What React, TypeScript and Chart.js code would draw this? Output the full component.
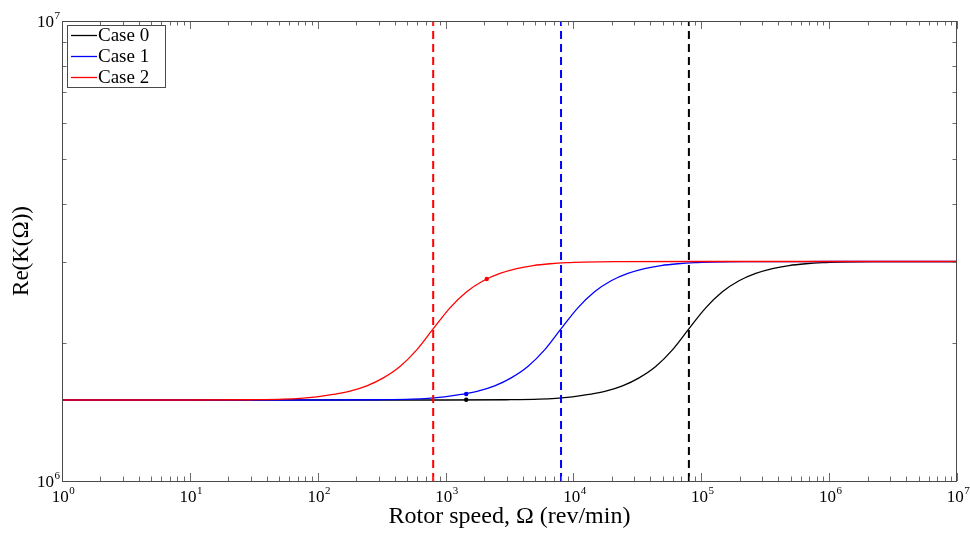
import React, { useEffect, useRef } from "react";
import { Chart, registerables } from "chart.js";

Chart.register(...registerables);

// ---- Data ----
const legendLabels = ["Case 0", "Case 1", "Case 2"];

// Case 2 (red)
const case2Speed = [1, 10, 30, 54, 73, 98, 132, 179, 242, 326, 440, 595, 802, 1083, 1463, 1972, 2665, 3601, 4855, 6557, 8858, 11950, 21790, 100000, 10000000];
const case2ReK = [1.5e6, 1.5e6, 1.502e6, 1.5062e6, 1.5125e6, 1.5241e6, 1.5422e6, 1.568e6, 1.6099e6, 1.6759e6, 1.7741e6, 1.9278e6, 2.1435e6, 2.3784e6, 2.5773e6, 2.7244e6, 2.8264e6, 2.8958e6, 2.9403e6, 2.9669e6, 2.9835e6, 2.9917e6, 2.9979e6, 3.0e6, 3.0e6];

// Case 1 (blue)
const case1Speed = [1, 100, 300, 540, 730, 980, 1320, 1790, 2420, 3260, 4400, 5950, 8020, 10830, 14630, 19720, 26650, 36010, 48550, 65570, 88580, 119500, 217900, 1000000, 10000000];
const case1ReK = [1.5e6, 1.5e6, 1.502e6, 1.5062e6, 1.5125e6, 1.5241e6, 1.5422e6, 1.568e6, 1.6099e6, 1.6759e6, 1.7741e6, 1.9278e6, 2.1435e6, 2.3784e6, 2.5773e6, 2.7244e6, 2.8264e6, 2.8958e6, 2.9403e6, 2.9669e6, 2.9835e6, 2.9917e6, 2.9979e6, 3.0e6, 3.0e6];

// Case 0 (black)
const case0Speed = [1, 1000, 3000, 5400, 7300, 9800, 13200, 17900, 24200, 32600, 44000, 59500, 80200, 108300, 146300, 197200, 266500, 360100, 485500, 655700, 885800, 1195000, 2179000, 10000000];
const case0ReK = [1.5e6, 1.5e6, 1.502e6, 1.5062e6, 1.5125e6, 1.5241e6, 1.5422e6, 1.568e6, 1.6099e6, 1.6759e6, 1.7741e6, 1.9278e6, 2.1435e6, 2.3784e6, 2.5773e6, 2.7244e6, 2.8264e6, 2.8958e6, 2.9403e6, 2.9669e6, 2.9835e6, 2.9917e6, 2.9979e6, 3.0e6];

// marked points on each curve [case0, case1, case2]
const markerSpeed = [1450, 1450, 2100];
const markerReK = [1.502e6, 1.546e6, 2.748e6];

// dashed vertical lines [case0, case1, case2]
const criticalSpeed = [80000, 8000, 800];

const caseColors = ["#000000", "#0000ff", "#ff0000"];

// axes
const xMin = 1;
const xMax = 1e7;
const yMin = 1e6;
const yMax = 1e7;
const xMajorTicks = [1, 10, 100, 1e3, 1e4, 1e5, 1e6, 1e7];
const xTickExponents = ["0", "1", "2", "3", "4", "5", "6", "7"];
const yMajorTicks = [1e6, 1e7];
const yTickExponents = ["6", "7"];

const xTitle = "Rotor speed, \u03A9 (rev/min)";
const yTitle = "Re(K(\u03A9))";

const SERIF = "'Liberation Serif', 'Times New Roman', 'DejaVu Serif', serif";

function minorTicks(min: number, max: number): number[] {
  const out: number[] = [];
  for (let e = Math.floor(Math.log10(min)); e < Math.ceil(Math.log10(max)); e++) {
    for (let k = 2; k <= 9; k++) {
      const v = k * Math.pow(10, e);
      if (v > min && v < max) out.push(v);
    }
  }
  return out;
}

const matlabAxes = {
  id: "matlabAxes",
  afterDatasetsDraw(chart: any) {
    const { ctx, chartArea: a, scales } = chart;
    const xs = scales.x;
    const ys = scales.y;
    ctx.save();
    // ticks (inward, on all four sides)
    ctx.strokeStyle = "#6a6a6a";
    ctx.lineWidth = 1;
    ctx.beginPath();
    const majorLen = 8;
    const minorLen = 4.5;
    const xTicks = [
      ...xMajorTicks.map((v) => [v, majorLen]),
      ...minorTicks(xMin, xMax).map((v) => [v, minorLen]),
    ];
    for (const [v, len] of xTicks) {
      const px = Math.round(xs.getPixelForValue(v)) + 0.5;
      ctx.moveTo(px, a.bottom);
      ctx.lineTo(px, a.bottom - len);
      ctx.moveTo(px, a.top);
      ctx.lineTo(px, a.top + len);
    }
    const yTicks = [
      ...yMajorTicks.map((v) => [v, majorLen]),
      ...minorTicks(yMin, yMax).map((v) => [v, minorLen]),
    ];
    for (const [v, len] of yTicks) {
      const py = Math.round(ys.getPixelForValue(v)) + 0.5;
      ctx.moveTo(a.left, py);
      ctx.lineTo(a.left + len, py);
      ctx.moveTo(a.right, py);
      ctx.lineTo(a.right - len, py);
    }
    ctx.stroke();
    // box
    ctx.strokeStyle = "#4a4a4a";
    ctx.strokeRect(a.left + 0.5, a.top + 0.5, a.right - a.left - 1, a.bottom - a.top);

    // tick labels: 10 with superscript exponent
    ctx.fillStyle = "#000";
    ctx.textBaseline = "alphabetic";
    const mainFont = `17px ${SERIF}`;
    const expFont = `11px ${SERIF}`;
    xMajorTicks.forEach((v, i) => {
      const px = xs.getPixelForValue(v);
      ctx.font = mainFont;
      const w1 = ctx.measureText("10").width;
      ctx.font = expFont;
      const w2 = ctx.measureText(xTickExponents[i]).width;
      const x0 = px - (w1 + w2) / 2 + 1;
      const base = a.bottom + 21;
      ctx.font = mainFont;
      ctx.textAlign = "left";
      ctx.fillText("10", x0, base);
      ctx.font = expFont;
      ctx.fillText(xTickExponents[i], x0 + w1 + 0.5, base - 8.5);
    });
    yMajorTicks.forEach((v, i) => {
      const py = ys.getPixelForValue(v);
      ctx.font = expFont;
      const w2 = ctx.measureText(yTickExponents[i]).width;
      const right = a.left - 2;
      const base = py + 6;
      ctx.textAlign = "left";
      ctx.fillText(yTickExponents[i], right - w2, base - 8.5);
      ctx.font = mainFont;
      const w1 = ctx.measureText("10").width;
      ctx.fillText("10", right - w2 - 0.5 - w1, base);
    });
    ctx.restore();
  },
  afterDraw(chart: any) {
    const { ctx, chartArea: a } = chart;
    ctx.save();
    const bx = a.left + 5;
    const by = a.top + 4;
    const bw = 98;
    const bh = 62;
    ctx.fillStyle = "#fff";
    ctx.fillRect(bx, by, bw, bh);
    ctx.strokeStyle = "#4a4a4a";
    ctx.lineWidth = 1;
    ctx.strokeRect(bx + 0.5, by + 0.5, bw, bh);
    ctx.font = `19px ${SERIF}`;
    ctx.textBaseline = "middle";
    ctx.textAlign = "left";
    legendLabels.forEach((label, i) => {
      const y = by + 10.5 + i * 21;
      ctx.strokeStyle = caseColors[i];
      ctx.lineWidth = 1.3;
      ctx.beginPath();
      ctx.moveTo(bx + 4, y);
      ctx.lineTo(bx + 30, y);
      ctx.stroke();
      ctx.fillStyle = "#000";
      ctx.fillText(label, bx + 31, y + 0.5);
    });
    ctx.restore();
  },
};

function pts(xs: number[], ys: number[]) {
  return xs.map((x, i) => ({ x, y: ys[i] }));
}

export default function App() {
  const ref = useRef<HTMLCanvasElement | null>(null);

  useEffect(() => {
    if (!ref.current) return;
    const curve = (label: string, xs: number[], ys: number[], color: string, order: number) => ({
      label,
      data: pts(xs, ys),
      borderColor: color,
      backgroundColor: color,
      borderWidth: 1.3,
      pointRadius: 0,
      fill: false,
      cubicInterpolationMode: "monotone",
      order,
    });
    const dashed = (x: number, color: string) => ({
      label: "",
      data: [
        { x, y: yMin },
        { x, y: yMax },
      ],
      borderColor: color,
      borderWidth: 2,
      borderDash: [8, 5],
      pointRadius: 0,
      fill: false,
      order: 1,
    });
    const chart = new Chart(ref.current, {
      type: "line",
      data: {
        datasets: [
          curve(legendLabels[0], case0Speed, case0ReK, caseColors[0], 4),
          curve(legendLabels[1], case1Speed, case1ReK, caseColors[1], 3),
          curve(legendLabels[2], case2Speed, case2ReK, caseColors[2], 2),
          dashed(criticalSpeed[0], caseColors[0]),
          dashed(criticalSpeed[1], caseColors[1]),
          dashed(criticalSpeed[2], caseColors[2]),
          {
            label: "",
            data: pts(markerSpeed, markerReK),
            showLine: false,
            pointRadius: 2.2,
            pointBorderWidth: 0,
            pointBackgroundColor: caseColors,
            borderColor: caseColors,
            order: 0,
          },
        ] as any,
      },
      options: {
        animation: false,
        responsive: true,
        maintainAspectRatio: false,
        layout: { padding: { left: 0, right: 13, top: 21, bottom: 0 } },
        plugins: {
          legend: { display: false },
          tooltip: { enabled: false },
        },
        scales: {
          x: {
            type: "logarithmic",
            position: "bottom",
            min: xMin,
            max: xMax,
            grid: { display: false },
            border: { display: false },
            ticks: { display: false },
            title: {
              display: true,
              text: xTitle,
              color: "#000",
              font: { family: SERIF, size: 24 },
              padding: { top: 0, bottom: 2 },
            },
            afterFit: (s: any) => {
              s.height = 52;
            },
          },
          y: {
            type: "logarithmic",
            position: "left",
            min: yMin,
            max: yMax,
            grid: { display: false },
            border: { display: false },
            ticks: { display: false },
            title: {
              display: true,
              text: yTitle,
              color: "#000",
              font: { family: SERIF, size: 23 },
              padding: { top: 8, bottom: 0 },
            },
            afterFit: (s: any) => {
              s.width = 62;
            },
          },
        },
      } as any,
      plugins: [matlabAxes],
    });
    return () => chart.destroy();
  }, []);

  return (
    <div style={{ position: "fixed", left: 0, top: 0, width: 970, height: 533, background: "#fff" }}>
      <canvas ref={ref} style={{ display: "block" }} />
    </div>
  );
}
